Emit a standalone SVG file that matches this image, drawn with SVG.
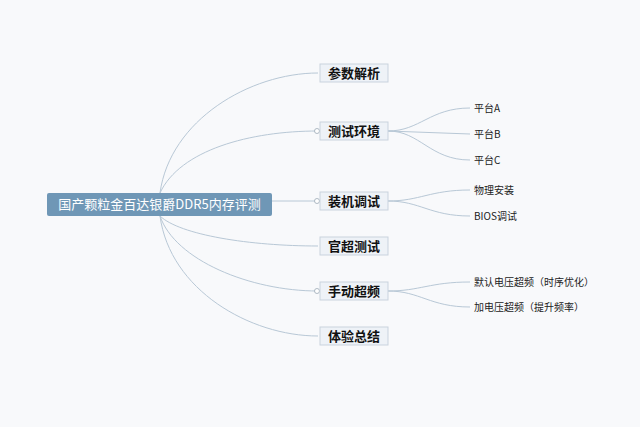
<svg xmlns="http://www.w3.org/2000/svg" width="640" height="427" viewBox="0 0 640 427">
<style>
.c{fill:none;stroke:#b8c8d6;stroke-width:1}
.b rect{fill:#eef2f7;stroke:#c9d3de;stroke-width:1}
.b text{font-family:"Noto Sans CJK SC",sans-serif;font-size:13px;font-weight:bold;fill:#111;text-anchor:middle}
.s text{font-family:"Noto Sans CJK SC",sans-serif;font-size:10px;fill:#222}
.k{fill:#fff;stroke:#9aa8b5;stroke-width:0.8}
</style>
<rect width="640" height="427" fill="#f8f9fb"/>
<g id="connectors">
<path class="c" d="M160,193 C170,120 250,73 318,73"/>
<path class="c" d="M160,193 C180,150 250,131 318,131"/>
<path class="c" d="M272,201 L318,201"/>
<path class="c" d="M160,216 C180,235 250,246 318,246"/>
<path class="c" d="M160,216 C175,260 250,291 318,291"/>
<path class="c" d="M160,216 C170,290 250,336 318,336"/>
<path class="c" d="M388,131 C420,131 430,108 470,108"/>
<path class="c" d="M388,131 L470,134"/>
<path class="c" d="M388,131 C420,131 430,160 470,160"/>
<path class="c" d="M388,201 C420,201 430,190 470,190"/>
<path class="c" d="M388,201 C420,201 430,216 470,216"/>
<path class="c" d="M388,291 C420,291 430,282 470,282"/>
<path class="c" d="M388,291 C420,291 430,307 470,307"/>
<circle class="k" cx="317" cy="131" r="2.5"/>
<circle class="k" cx="317" cy="201" r="2.5"/>
<circle class="k" cx="317" cy="291" r="2.5"/>
</g>
<g id="root"><rect x="47" y="193" width="225" height="23" rx="2" fill="#6f97b6"/>
<text x="159.5" y="209" font-family="Noto Sans CJK SC,sans-serif" font-size="13" fill="#fff" text-anchor="middle">国产颗粒金百达银爵DDR5内存评测</text></g>
<g id="n1" class="b"><rect x="320" y="64" width="68" height="18"/><text x="354" y="78">参数解析</text></g>
<g id="n2" class="b"><rect x="320" y="122" width="68" height="18"/><text x="354" y="136">测试环境</text></g>
<g id="n3" class="b"><rect x="320" y="192" width="68" height="18"/><text x="354" y="206">装机调试</text></g>
<g id="n4" class="b"><rect x="320" y="237" width="68" height="18"/><text x="354" y="251">官超测试</text></g>
<g id="n5" class="b"><rect x="320" y="282" width="68" height="18"/><text x="354" y="296">手动超频</text></g>
<g id="n6" class="b"><rect x="320" y="327" width="68" height="18"/><text x="354" y="341">体验总结</text></g>
<g id="s1" class="s"><text x="474" y="112">平台A</text></g>
<g id="s2" class="s"><text x="474" y="138">平台B</text></g>
<g id="s3" class="s"><text x="474" y="164">平台C</text></g>
<g id="s4" class="s"><text x="474" y="194">物理安装</text></g>
<g id="s5" class="s"><text x="474" y="220">BIOS调试</text></g>
<g id="s6" class="s"><text x="474" y="286">默认电压超频（时序优化）</text></g>
<g id="s7" class="s"><text x="474" y="311">加电压超频（提升频率）</text></g>
</svg>
